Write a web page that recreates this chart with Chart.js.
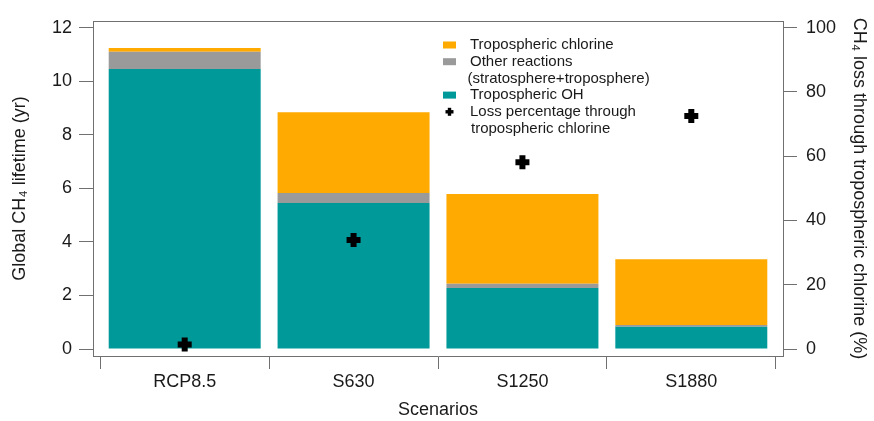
<!DOCTYPE html>
<html>
<head>
<meta charset="utf-8">
<script src="https://cdn.jsdelivr.net/npm/chart.js@4/dist/chart.umd.min.js"></script>
<style>
  html, body { margin: 0; padding: 0; background: #ffffff; }
  canvas { display: block; }
</style>
</head>
<body>
<canvas id="chart" width="874" height="421"></canvas>
<script>
// Scenario names along the x axis
const scenarios = ['RCP8.5', 'S630', 'S1250', 'S1880'];

// Global CH4 lifetime contributions (yr), stacked bottom to top
const lifetimeOH = [10.46, 5.45, 2.28, 0.83];
const lifetimeOther = [0.64, 0.38, 0.16, 0.07];
const lifetimeCl = [0.14, 3.01, 3.35, 2.45];

// CH4 loss through tropospheric chlorine (%)
const lossPctCl = [1.4, 33.9, 58.1, 72.5];

// Axis tick values
const lifetimeTicks = [0, 2, 4, 6, 8, 10, 12];
const pctTicks = [0, 20, 40, 60, 80, 100];
const scenarioTicks = [-0.5, 0, 0.5, 1, 1.5, 2, 2.5, 3, 3.5];

const FONT = '"Liberation Sans", Arial, Helvetica, sans-serif';
const LINE = '#707070';
const TEXT = '#1a1a1a';
const TEAL = '#009999';
const GREY = '#9a9a9a';
const ORANGE = '#ffaa00';

const toXY = (arr) => arr.map((v, i) => ({ x: i, y: v }));

// Top edge of the plot frame
const frameTop = {
  id: 'frameTop',
  afterDraw(chart) {
    const { ctx, chartArea } = chart;
    ctx.save();
    ctx.strokeStyle = LINE;
    ctx.lineWidth = 1;
    ctx.beginPath();
    ctx.moveTo(chartArea.left, chartArea.top + 0.5);
    ctx.lineTo(chartArea.right, chartArea.top + 0.5);
    ctx.stroke();
    ctx.restore();
  }
};

// Legend block placed inside the plot area
const legendBlock = {
  id: 'legendBlock',
  afterDraw(chart, args, opts) {
    const ctx = chart.ctx;
    ctx.save();
    ctx.font = '15px ' + FONT;
    ctx.textBaseline = 'middle';
    ctx.textAlign = 'left';
    let y = opts.top;
    for (const item of opts.items) {
      const ds = chart.data.datasets[item.dataset];
      const cx = opts.keyX;
      if (ds.type === 'scatter') {
        ctx.fillStyle = ds.borderColor;
        const r = 4, w = 3.4;
        ctx.fillRect(cx - r, y - w / 2, 2 * r, w);
        ctx.fillRect(cx - w / 2, y - r, w, 2 * r);
      } else {
        ctx.fillStyle = ds.backgroundColor;
        ctx.fillRect(cx - 6.5, y - 3.5, 13, 7);
      }
      ctx.fillStyle = TEXT;
      item.lines.forEach((line, i) => {
        const dx = (item.indent && item.indent[i]) || 0;
        ctx.fillText(line, opts.textX + dx, y);
        y += opts.step;
      });
    }
    ctx.restore();
  }
};

// The x ticks sit every half scenario, so the bar ruler spans half a
// category: a category share of 2 gives one full scenario slot per bar.
const barCommon = {
  type: 'bar',
  yAxisID: 'y',
  borderWidth: 0,
  categoryPercentage: 2.0,
  barPercentage: 0.9,
  stack: 'lifetime'
};

new Chart(document.getElementById('chart'), {
  type: 'bar',
  data: {
    datasets: [
      Object.assign({}, barCommon, { label: 'Tropospheric OH', data: toXY(lifetimeOH), backgroundColor: TEAL }),
      Object.assign({}, barCommon, { label: 'Other reactions (stratosphere+troposphere)', data: toXY(lifetimeOther), backgroundColor: GREY }),
      Object.assign({}, barCommon, { label: 'Tropospheric chlorine', data: toXY(lifetimeCl), backgroundColor: ORANGE }),
      {
        type: 'scatter',
        label: 'Loss percentage through tropospheric chlorine',
        yAxisID: 'y2',
        data: toXY(lossPctCl),
        pointStyle: 'cross',
        pointRadius: 7,
        pointBorderWidth: 6,
        borderColor: '#000000',
        backgroundColor: '#000000',
        order: -1
      }
    ]
  },
  options: {
    responsive: false,
    animation: false,
    events: [],
    layout: { padding: { top: 21, left: 0, right: 0, bottom: 0 } },
    plugins: {
      legend: { display: false },
      tooltip: { enabled: false },
      legendBlock: {
        keyX: 449.5,
        textX: 470,
        top: 45,
        step: 16.7,
        items: [
          { dataset: 2, lines: ['Tropospheric chlorine'] },
          { dataset: 1, lines: ['Other reactions', '(stratosphere+troposphere)'], indent: [0, -2.5] },
          { dataset: 0, lines: ['Tropospheric OH'] },
          { dataset: 3, lines: ['Loss percentage through', 'tropospheric chlorine'], indent: [0, 1] }
        ]
      }
    },
    scales: {
      x: {
        type: 'linear',
        position: 'bottom',
        stacked: true,
        offset: false,
        min: -0.543,
        max: 3.543,
        afterFit: (s) => { s.height = 65; },
        afterBuildTicks: (s) => { s.ticks = scenarioTicks.map(v => ({ value: v })); },
        border: { display: true, color: LINE, width: 1 },
        grid: {
          offset: false,
          drawOnChartArea: false,
          drawTicks: true,
          tickLength: 13,
          tickWidth: 1,
          tickColor: (c) => (c.tick && Number.isInteger(c.tick.value)) ? 'rgba(0,0,0,0)' : LINE
        },
        ticks: {
          autoSkip: false,
          maxRotation: 0,
          padding: 2,
          color: TEXT,
          font: { family: FONT, size: 18 },
          callback: (v) => Number.isInteger(v) ? scenarios[v] : ''
        },
        title: {
          display: true,
          text: 'Scenarios',
          color: TEXT,
          font: { family: FONT, size: 18 },
          padding: { top: 0, bottom: 0 }
        }
      },
      y: {
        type: 'linear',
        position: 'left',
        stacked: true,
        min: -0.26,
        max: 12.25,
        afterFit: (s) => { s.width = 93; },
        afterBuildTicks: (s) => { s.ticks = lifetimeTicks.map(v => ({ value: v })); },
        border: { display: true, color: LINE, width: 1 },
        grid: { drawOnChartArea: false, drawTicks: true, tickLength: 14, color: LINE },
        ticks: {
          padding: 7,
          color: TEXT,
          font: { family: FONT, size: 18 }
        },
        title: {
          display: true,
          text: 'Global CH\u2084 lifetime (yr)',
          color: TEXT,
          font: { family: FONT, size: 18 },
          padding: { top: 9, bottom: 0 }
        }
      },
      y2: {
        type: 'linear',
        position: 'right',
        min: -0.26 / 0.12,
        max: 12.25 / 0.12,
        afterFit: (s) => { s.width = 91; },
        afterBuildTicks: (s) => { s.ticks = pctTicks.map(v => ({ value: v })); },
        border: { display: true, color: LINE, width: 1 },
        grid: { drawOnChartArea: false, drawTicks: true, tickLength: 14, color: LINE },
        ticks: {
          padding: 9,
          color: TEXT,
          font: { family: FONT, size: 18 }
        },
        title: {
          display: true,
          text: 'CH\u2084 loss through tropospheric chlorine (%)',
          color: TEXT,
          font: { family: FONT, size: 18 },
          padding: { top: 4, bottom: 0 }
        }
      }
    }
  },
  plugins: [frameTop, legendBlock]
});
</script>
</body>
</html>
